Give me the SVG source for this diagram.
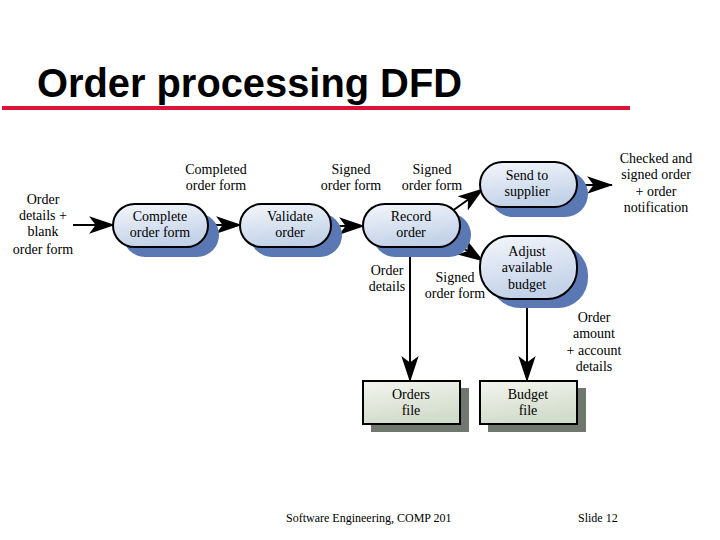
<svg xmlns="http://www.w3.org/2000/svg" width="720" height="540" viewBox="0 0 720 540">
<defs>
<linearGradient id="gp" x1="0" y1="0" x2="0.3" y2="1">
<stop offset="0" stop-color="#f4f7fc"/>
<stop offset="1" stop-color="#c3d2e8"/>
</linearGradient>
<linearGradient id="gs" x1="0" y1="0" x2="0.3" y2="1">
<stop offset="0" stop-color="#f3f5ee"/>
<stop offset="1" stop-color="#d2dccb"/>
</linearGradient>
<marker id="ah" markerUnits="userSpaceOnUse" markerWidth="26" markerHeight="18" viewBox="0 0 24 16" refX="23" refY="8" orient="auto">
<path d="M0,0 L24,8 L0,16 L6,8 Z" fill="#000"/>
</marker>
<style>
.pill{fill:url(#gp);stroke:#000;stroke-width:2}
.shp{fill:#5a78b4}
.store{fill:url(#gs);stroke:#000;stroke-width:2}
.shs{fill:#6f776f}
.t{font-family:"Liberation Serif","Times New Roman",serif;font-size:14px;fill:#000;text-anchor:middle}
.c{stroke:#000;stroke-width:2;fill:none;marker-end:url(#ah)}
.f{font-family:"Liberation Serif","Times New Roman",serif;font-size:12px;fill:#000}
</style>
</defs>
<rect width="720" height="540" fill="#fff"/>
<text x="37" y="97" font-family="Liberation Sans,Arial,sans-serif" font-weight="bold" font-size="41" textLength="425" lengthAdjust="spacingAndGlyphs">Order processing DFD</text>
<rect x="2" y="106" width="628" height="4" fill="#dc143c"/>

<g id="connectors">
<line class="c" x1="73" y1="225" x2="114" y2="225"/>
<line class="c" x1="200" y1="225" x2="241" y2="225"/>
<line class="c" x1="322" y1="226" x2="364" y2="226"/>
<line class="c" x1="448" y1="214" x2="483" y2="189"/>
<line class="c" x1="448" y1="238" x2="483" y2="261"/>
<line class="c" x1="566" y1="185" x2="612" y2="185"/>
<line class="c" x1="410" y1="248" x2="410" y2="381"/>
<line class="c" x1="527" y1="299" x2="527" y2="381"/>
</g>

<g id="complete">
<rect class="shp" x="123" y="213" width="96" height="44" rx="22"/>
<rect class="pill" x="113" y="204" width="95" height="43" rx="21.5"/>
<text class="t" x="160" y="221">Complete</text>
<text class="t" x="160" y="237">order form</text>
</g>
<g id="validate">
<rect class="shp" x="250" y="213" width="92" height="44" rx="22"/>
<rect class="pill" x="240" y="204" width="91" height="43" rx="21.5"/>
<text class="t" x="290" y="221">Validate</text>
<text class="t" x="290" y="237">order</text>
</g>
<g id="record">
<rect class="shp" x="373" y="213" width="98" height="44" rx="22"/>
<rect class="pill" x="363" y="204" width="97" height="43" rx="21.5"/>
<text class="t" x="411" y="221">Record</text>
<text class="t" x="411" y="237">order</text>
</g>
<g id="send">
<rect class="shp" x="490" y="171" width="98" height="46" rx="23"/>
<rect class="pill" x="480" y="162" width="97" height="45" rx="22.5"/>
<text class="t" x="527" y="180">Send to</text>
<text class="t" x="527" y="196">supplier</text>
</g>
<g id="adjust">
<rect class="shp" x="490" y="245" width="98" height="63" rx="30"/>
<rect class="pill" x="480" y="236" width="97" height="63" rx="30"/>
<text class="t" x="527" y="256">Adjust</text>
<text class="t" x="527" y="272">available</text>
<text class="t" x="527" y="289">budget</text>
</g>
<g id="orders">
<rect class="shs" x="371" y="388" width="98" height="44"/>
<rect class="store" x="363" y="381" width="97" height="43"/>
<text class="t" x="411" y="399">Orders</text>
<text class="t" x="411" y="415">file</text>
</g>
<g id="budget">
<rect class="shs" x="488" y="388" width="98" height="44"/>
<rect class="store" x="480" y="381" width="97" height="43"/>
<text class="t" x="528" y="399">Budget</text>
<text class="t" x="528" y="415">file</text>
</g>

<g id="labels">
<text class="t" x="43" y="204">Order</text>
<text class="t" x="43" y="220">details +</text>
<text class="t" x="43" y="236">blank</text>
<text class="t" x="43" y="254">order form</text>
<text class="t" x="216" y="174">Completed</text>
<text class="t" x="216" y="190">order form</text>
<text class="t" x="351" y="174">Signed</text>
<text class="t" x="351" y="190">order form</text>
<text class="t" x="432" y="174">Signed</text>
<text class="t" x="432" y="190">order form</text>
<text class="t" x="656" y="163">Checked and</text>
<text class="t" x="656" y="179">signed order</text>
<text class="t" x="656" y="196">+ order</text>
<text class="t" x="656" y="212">notification</text>
<text class="t" x="387" y="275">Order</text>
<text class="t" x="387" y="291">details</text>
<text class="t" x="455" y="282">Signed</text>
<text class="t" x="455" y="298">order form</text>
<text class="t" x="594" y="322">Order</text>
<text class="t" x="594" y="338">amount</text>
<text class="t" x="594" y="355">+ account</text>
<text class="t" x="594" y="371">details</text>
</g>
<text class="f" x="286" y="522">Software Engineering, COMP 201</text>
<text class="f" x="578" y="522">Slide  12</text>
</svg>
